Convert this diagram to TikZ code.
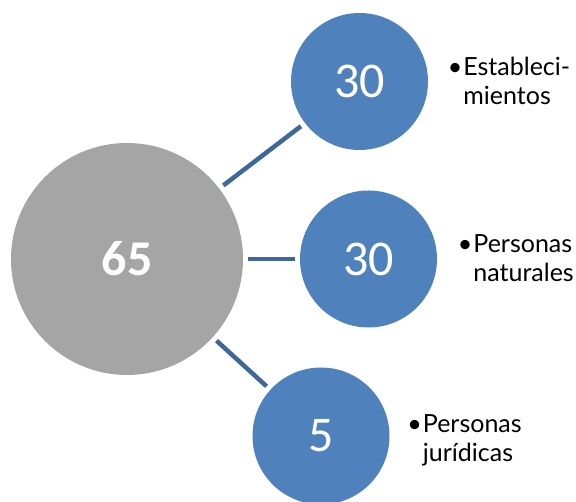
\documentclass[tikz,border=0pt]{standalone}
\usepackage{fontspec}
\setmainfont{Lato}
\newfontfamily\numfont{Carlito}
\usetikzlibrary{positioning}

\definecolor{totalgray}{RGB}{165,165,165}
\definecolor{partblue}{RGB}{79,129,189}
\definecolor{linkblue}{RGB}{62,104,155}

\begin{document}
\begin{tikzpicture}[
        x=1pt, y=1pt,
        total/.style={circle, fill=totalgray, minimum size=232pt, inner sep=0pt, text=white, font=\numfont\bfseries\fontsize{50}{50}\selectfont},
        part/.style={circle, fill=partblue, minimum size=137pt, inner sep=0pt, text=white, font=\numfont\fontsize{50}{50}\selectfont},
        link/.style={-, line width=4.5pt, linkblue, shorten <=5pt, shorten >=5pt},
        tag/.style={anchor=base west, align=left, inner sep=0pt, font=\fontsize{25}{29}\selectfont}
    ]
        \useasboundingbox (0,0) rectangle (576,502);

        % Total
        \node[total] (all) at (127,243) {65};

        % Parts
        \node[part] (est) at (359.5,420.5) {30};
        \node[part] (nat) at (368.5,243) {30};
        \node[part] (jur) at (321,66) {5};

        \draw[link] (all) -- (est);
        \draw[link] (all) -- (nat);
        \draw[link] (all) -- (jur);

        % Labels (base = last line)
        \node[tag] (estlbl) at ([shift={(35pt,-23pt)}]est.east) {\llap{•\kern1pt}Estableci-\\mientos};
        \node[tag] (natlbl) at ([shift={(36pt,-23pt)}]nat.east) {\llap{•\kern1pt}Personas\\naturales};
        \node[tag] (jurlbl) at ([shift={(33pt,-26pt)}]jur.east) {\llap{•\kern1pt}Personas\\jurídicas};

    \end{tikzpicture}
\end{document}
